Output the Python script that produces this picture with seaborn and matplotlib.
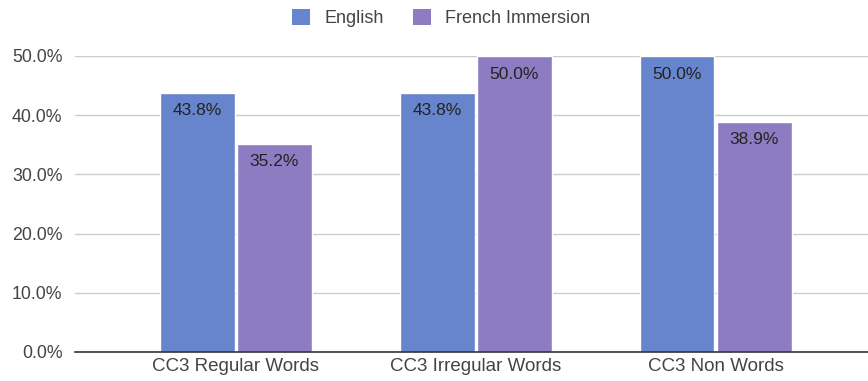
import matplotlib
matplotlib.use("Agg")
import matplotlib.pyplot as plt
import seaborn as sns
import pandas as pd
from matplotlib.ticker import PercentFormatter
from matplotlib.patches import Patch

categories = ["CC3 Regular Words", "CC3 Irregular Words", "CC3 Non Words"]
english = [0.438, 0.438, 0.500]
french = [0.352, 0.500, 0.389]
series_names = ["English", "French Immersion"]
colors = ["#6785cc", "#8e7cc3"]

df = pd.DataFrame({
    "category": categories * 2,
    "value": english + french,
    "series": [series_names[0]] * 3 + [series_names[1]] * 3,
})

sns.set_theme(style="white")
plt.rcParams["font.family"] = ["Liberation Sans", "DejaVu Sans"]

fig = plt.figure(figsize=(8.68, 3.81), dpi=100)
ax = fig.add_axes([75 / 868, 29 / 381, 1 - 75 / 868, (352 - 56) / 381])

sns.barplot(data=df, x="category", y="value", hue="series", order=categories,
            hue_order=series_names, palette=colors, width=0.642, gap=0.03,
            saturation=1, ax=ax, legend=False, zorder=3)

for container in ax.containers:
    for bar in container:
        h = bar.get_height()
        ax.annotate(f"{h*100:.1f}%", (bar.get_x() + bar.get_width() / 2, h),
                    xytext=(0, -13), textcoords="offset points",
                    ha="center", va="center", fontsize=12.5, color="#222222", zorder=4)

ax.set_ylim(0, 0.5)
ax.set_xlim(-0.67, 2.635)
ax.set_yticks([0, 0.1, 0.2, 0.3, 0.4, 0.5])
ax.yaxis.set_major_formatter(PercentFormatter(1.0, decimals=1))
ax.grid(axis="y", color="#cccccc", linewidth=1, zorder=0)
ax.set_axisbelow(True)
for s in ["top", "right", "left"]:
    ax.spines[s].set_visible(False)
ax.spines["bottom"].set_color("#333333")
ax.spines["bottom"].set_linewidth(1.2)
ax.spines["bottom"].set_zorder(5)
ax.tick_params(axis="both", length=0, colors="#444444")
ax.tick_params(axis="y", pad=9, labelsize=12.8)
ax.tick_params(axis="x", pad=4, labelsize=13.5)
ax.set_xlabel("")
ax.set_ylabel("")

handles = [Patch(facecolor=c, edgecolor="none") for c in colors]
fig.legend(handles, series_names, loc="center", bbox_to_anchor=(0.508, 0.953),
           ncol=2, frameon=False, fontsize=13, handlelength=1.0, handleheight=1.0,
           columnspacing=1.6, handletextpad=0.8, labelcolor="#444444")

fig.savefig("out.png", dpi=100)
